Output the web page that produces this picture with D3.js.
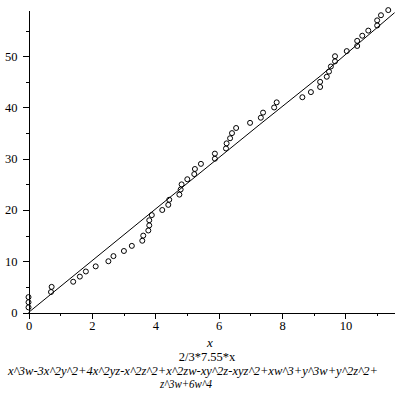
<!DOCTYPE html>
<html>
<head>
<meta charset="utf-8">
<script src="https://cdn.jsdelivr.net/npm/d3@7"></script>
<style>
  html, body { margin: 0; padding: 0; background: #fff; }
  svg { display: block; }
  svg text { font-family: "Liberation Serif", "Times New Roman", Tinos, serif !important; fill: #000; }
</style>
</head>
<body>
<div id="chart"></div>
<script>
// ---- data ----
const pointX = [0, 0, 0, 0.71, 0.73, 1.41, 1.62, 1.81, 2.12, 2.52, 2.68, 3.01, 3.26, 3.59, 3.62,
  3.78, 3.81, 3.81, 3.89, 4.22, 4.41, 4.44, 4.76, 4.80, 4.83, 5.01, 5.23, 5.25, 5.44, 5.88,
  5.88, 6.23, 6.25, 6.36, 6.42, 6.55, 6.99, 7.33, 7.40, 7.75, 7.83, 8.64, 8.91, 9.20, 9.20,
  9.41, 9.48, 9.54, 9.67, 9.67, 10.04, 10.37, 10.37, 10.53, 10.72, 11.00, 11.00, 11.12, 11.35];
const pointY = [1, 2, 3, 4, 5, 6, 7, 8, 9, 10, 11, 12, 13, 14, 15, 16, 17, 18, 19, 20,
  21, 22, 23, 24, 25, 26, 27, 28, 29, 30, 31, 32, 33, 34, 35, 36, 37, 38, 39, 40,
  41, 42, 43, 44, 45, 46, 47, 48, 49, 50, 51, 52, 53, 54, 55, 56, 57, 58, 59];
const lineX = [0, 3.83, 7.30, 9.20, 11.55];
const lineY = [0, 19.3, 36.7, 46.1, 58.5];
const xMajorTicks = [0, 2, 4, 6, 8, 10];
const xMinorTicks = [1, 3, 5, 7, 9, 11];
const yMajorTicks = [0, 10, 20, 30, 40, 50];
const yMinorTicks = [5, 15, 25, 35, 45, 55];
const xLabel = "x";
const captionLines = [
  "2/3*7.55*x",
  "x^3w-3x^2y^2+4x^2yz-x^2z^2+x^2zw-xy^2z-xyz^2+xw^3+y^3w+y^2z^2+",
  "z^3w+6w^4"
];

// ---- drawing ----
const W = 400, H = 400;
const svg = d3.select("#chart").append("svg").attr("width", W).attr("height", H);

const x = d3.scaleLinear().domain([0, 11.55]).range([28.5, 394.6]);
const y = d3.scaleLinear().domain([0, 59]).range([312.5, 10.1]);

const fs = "12.5px";

// x axis
const gx = svg.append("g").attr("transform", `translate(0,${y(0)})`).style("shape-rendering", "crispEdges");
gx.call(d3.axisBottom(x).tickValues(xMajorTicks).tickSize(6).tickSizeOuter(0).tickPadding(3).tickFormat(d3.format("d")));
gx.append("g").call(d3.axisBottom(x).tickValues(xMinorTicks).tickSize(3).tickSizeOuter(0).tickFormat(""))
  .select(".domain").remove();

// y axis
const gy = svg.append("g").attr("transform", `translate(${x(0)},0)`).style("shape-rendering", "crispEdges");
gy.call(d3.axisLeft(y).tickValues(yMajorTicks).tickSize(6).tickSizeOuter(0).tickPadding(5).tickFormat(d3.format("d")));
gy.append("g").call(d3.axisLeft(y).tickValues(yMinorTicks).tickSize(3).tickSizeOuter(0).tickFormat(""))
  .select(".domain").remove();

svg.selectAll("g").attr("font-family", "Liberation Serif");
svg.selectAll(".domain").attr("stroke", "#000");
svg.selectAll(".tick line").attr("stroke", "#000");
svg.selectAll(".tick text").attr("font-size", fs).attr("fill", "#000");

// line
const lineData = lineX.map((v, i) => [v, lineY[i]]);
svg.append("path")
  .datum(lineData)
  .attr("fill", "none")
  .attr("stroke", "#000")
  .attr("stroke-width", 1)
  .attr("d", d3.line().x(d => x(d[0])).y(d => y(d[1])));

// points
const pts = pointX.map((v, i) => [v, pointY[i]]);
svg.append("g").selectAll("circle").data(pts).join("circle")
  .attr("cx", d => x(d[0]))
  .attr("cy", d => y(d[1]))
  .attr("r", 2.5)
  .attr("fill", "none")
  .attr("stroke", "#000")
  .attr("stroke-width", 1);

// labels
svg.append("text").attr("x", 210).attr("y", 347).attr("text-anchor", "middle")
  .attr("font-size", "13px").attr("font-style", "italic").text(xLabel);
const capX = [207, 193, 186];
const capY = [361, 374.5, 388];
const capW = [null, 370, 52];
captionLines.forEach((t, i) => {
  const tx = svg.append("text").attr("x", capX[i]).attr("y", capY[i]).attr("text-anchor", "middle")
    .attr("font-size", "12.5px").attr("font-style", i === 0 ? "normal" : "italic").text(t);
  if (capW[i]) tx.attr("textLength", capW[i]).attr("lengthAdjust", "spacingAndGlyphs");
});
</script>
</body>
</html>
